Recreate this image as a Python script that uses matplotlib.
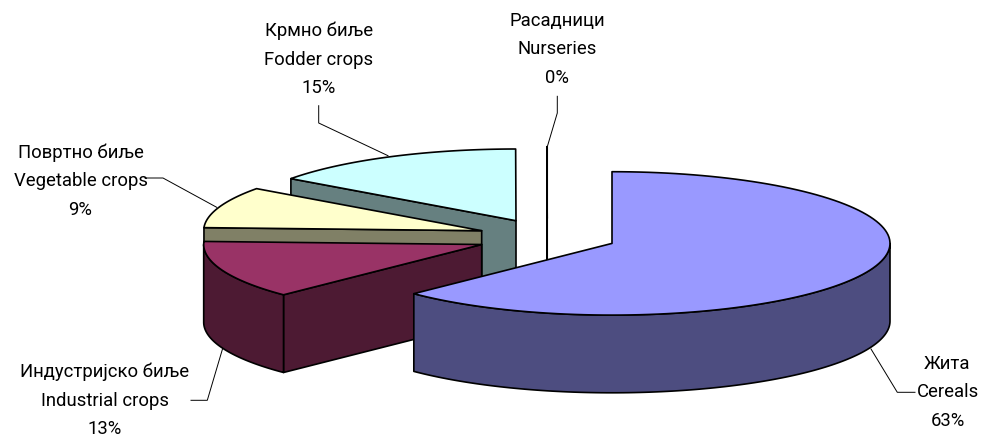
import numpy as np
import matplotlib
matplotlib.use('Agg')
from matplotlib import pyplot as plt
from matplotlib.patches import Polygon

plt.rcParams['font.family'] = ['Roboto', 'Liberation Sans', 'DejaVu Sans']

# clockwise from 12 o'clock
names_sr = ['Жита', 'Индустријско биље', 'Повртно биље', 'Крмно биље', 'Расадници']
names_en = ['Cereals', 'Industrial crops', 'Vegetable crops', 'Fodder crops', 'Nurseries']
values = [62.63, 13.05, 9.3, 15.0, 0.02]

top_colors = ['#9999FF', '#993366', '#FFFFCC', '#CCFFFF', '#000000']
side_colors = ['#4D4D80', '#4D1A33', '#808066', '#668080', '#000000']

# exploded apex of every slice, pixels
centers = [(612, 244.4), (481.7, 245.5), (481.7, 231.7), (516, 221.7), (547.2, 219.4)]
label_pos = [(947.5, 392.5), (104.7, 400.5), (80.5, 181), (318.8, 59.5), (557, 49.5)]
leaders = [
    [(915, 393.3), (897.3, 393.3), (871, 350)],
    [(191, 401.3), (207.3, 401.3), (222.7, 349.3)],
    [(145, 179), (163, 179), (216.7, 208.3)],
    [(318.7, 106.7), (318.7, 124), (388, 156.7)],
    [(557.3, 97.3), (557.3, 114), (547.3, 147.7)],
]

RX = 278
RY = 71.7
DEPTH = 77.7


def rim(center, a, b, n=120):
    # points on the ellipse, angles in degrees clockwise from the top
    t = np.radians(np.linspace(a, b, n))
    return np.column_stack((center[0] + RX * np.sin(t), center[1] - RY * np.cos(t)))


def add_poly(ax, pts, color, lw=1.2):
    ax.add_patch(Polygon(pts, closed=True, facecolor=color, edgecolor='black',
                         linewidth=lw, joinstyle='round'))


fig = plt.figure(figsize=(9.81, 4.39), dpi=100)
ax = fig.add_axes([0, 0, 1, 1])
ax.set_xlim(0, 981)
ax.set_ylim(439, 0)
ax.axis('off')

edges = np.concatenate(([0], np.cumsum(values))) * 360 / sum(values)

# back slices first, the big one goes on top
for i in [4, 3, 2, 1, 0]:
    a, b = edges[i], edges[i + 1]
    c = np.array(centers[i])
    down = np.array([0, DEPTH])
    for ang, sign in ((a, -1), (b, 1)):
        if sign * np.sin(np.radians(ang)) > 1e-6:
            p = rim(c, ang, ang, 1)[0]
            add_poly(ax, [c, p, p + down, c + down], side_colors[i])
    lo, hi = max(a, 90), min(b, 270)
    if hi > lo:
        arc = rim(c, lo, hi)
        add_poly(ax, np.vstack((arc, arc[::-1] + down)), side_colors[i])
    add_poly(ax, np.vstack(([c], rim(c, a, b))), top_colors[i])

for line in leaders:
    xs, ys = zip(*line)
    ax.plot(xs, ys, color='black', lw=0.7)

for sr, en, v, (x, y) in zip(names_sr, names_en, values, label_pos):
    ax.text(x, y, f'{sr}\n{en}\n{v:.0f}%', ha='center', va='center', fontsize=13.3,
            linespacing=1.75, color='black')

fig.savefig('out.png', dpi=100)
